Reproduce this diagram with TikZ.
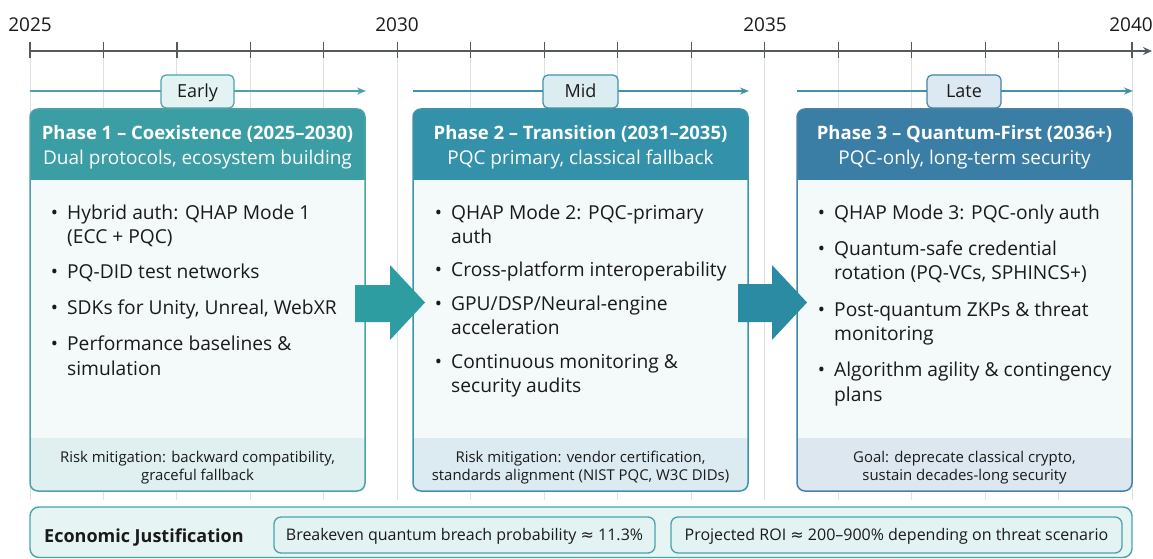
\documentclass[tikz,border=0pt]{standalone}
\usepackage{fontspec}
\setmainfont{Open Sans}
\newfontfamily\symfont{DejaVu Sans}
\usetikzlibrary{arrows.meta}
\definecolor{hdrA}{HTML}{3B9EA4}
\definecolor{hdrB}{HTML}{3392A9}
\definecolor{hdrC}{HTML}{3A7DA5}
\definecolor{bdA}{HTML}{4AA3A8}
\definecolor{bdB}{HTML}{3E93AB}
\definecolor{bdC}{HTML}{4682A8}
\definecolor{footA}{HTML}{E0F0F1}
\definecolor{footB}{HTML}{DCEBF1}
\definecolor{footC}{HTML}{DCE7F0}
\definecolor{bodyF}{HTML}{F4F9FA}
\definecolor{lblA}{HTML}{E3F3F3}
\definecolor{lblB}{HTML}{DCEDF2}
\definecolor{lblC}{HTML}{DDE9F2}
\definecolor{axisC}{HTML}{555A5E}
\definecolor{gridC}{HTML}{DDDFE0}
\definecolor{econF}{HTML}{E6F4F4}
\definecolor{arrA}{HTML}{2E9DA2}
\definecolor{arrB}{HTML}{2B8BA3}
\definecolor{txtC}{HTML}{1A1A1A}
\newcommand{\bul}{\llap{\textbullet\hspace{9pt}}}
\begin{document}
\begin{tikzpicture}[x=1pt,y=-1pt,
  txt/.style={inner sep=0pt, text depth=0pt, text=txtC},
  body/.style={txt, anchor=west, text height=13.4pt, font=\fontsize{19.2}{22}\selectfont},
  hdr/.style={txt, anchor=center, text=white, text height=13.3pt, font=\fontsize{19}{22}\selectfont},
  hdrb/.style={hdr, text height=13pt, font=\bfseries\fontsize{18.5}{22}\selectfont},
  foot/.style={txt, anchor=center, text height=10.4pt, font=\fontsize{14.9}{17}\selectfont},
  year/.style={txt, anchor=center, text height=13.3pt, font=\fontsize{19}{22}\selectfont},
  lbl/.style={draw, line width=1.2pt, rounded corners=5pt, minimum width=73pt, minimum height=33pt, inner sep=0pt, text height=12.6pt, text depth=0pt, font=\fontsize{18}{22}\selectfont, text=txtC},
  parr/.style={line width=1.5pt, -{Stealth[length=9pt,width=7pt]}},
  tick/.style={axisC, line width=1.2pt},
  gridl/.style={gridC, line width=0.9pt},
  pbox/.style={line width=1.5pt, rounded corners=8pt},
  econbox/.style={draw=bdA, fill=lblA, line width=1.3pt, rounded corners=7pt, minimum width=#1, minimum height=36pt, inner sep=0pt, text height=11.2pt, text depth=0pt, font=\fontsize{16}{19}\selectfont, text=txtC},
]
\useasboundingbox (0,0) rectangle (1153,559);
\fill[white] (0,0) rectangle (1153,559);

% grid lines and ticks
\foreach \i in {0,...,15} {
  \draw[gridl] ({30+\i*73.47},58) -- ({30+\i*73.47},500);
}
\coordinate (axL) at (30,51);
\coordinate (axR) at (1152,51);
\draw[axisC, line width=1.8pt, -{Stealth[length=9pt,width=8pt]}] (axL) -- (axR);
\foreach \i in {0,...,15} {
  \draw[tick] ({30+\i*73.47},42) -- ({30+\i*73.47},58);
}
\node[year] (y25) at (30,25) {2025};
\node[year] (y30) at (397,25) {2030};
\node[year] (y35) at (765,25) {2035};
\node[year] (y40) at (1131,25) {2040};

% phase arrows and labels
\coordinate (eaS) at (30,91);  \coordinate (eaE) at (366,91);
\coordinate (miS) at (413,91); \coordinate (miE) at (749,91);
\coordinate (laS) at (797,91); \coordinate (laE) at (1133,91);
\draw[parr, color=bdA] (eaS) -- (eaE);
\draw[parr, color=bdB] (miS) -- (miE);
\draw[parr, color=bdB] (laS) -- (laE);
\node[lbl, draw=bdA, fill=lblA] (early) at (197.5,91.5) {Early};
\node[lbl, draw=bdB, fill=lblB, minimum width=75pt] (mid) at (580.5,91.5) {Mid};
\node[lbl, draw=bdC, fill=lblC, minimum width=74pt] (late) at (964,91.5) {Late};

% phase boxes
\foreach \xa/\xb/\hc/\bc/\fc in {30/365/hdrA/bdA/footA, 413/748/hdrB/bdB/footB, 797/1132/hdrC/bdC/footC} {
  \begin{scope}
    \clip[rounded corners=8pt] (\xa,109) rectangle (\xb,491);
    \fill[bodyF] (\xa,109) rectangle (\xb,491);
    \fill[\hc] (\xa,109) rectangle (\xb,180);
    \fill[\fc] (\xa,438) rectangle (\xb,491);
  \end{scope}
  \draw[pbox, draw=\bc] (\xa,109) rectangle (\xb,491);
}

% headers
\node[hdrb] (h1a) at (197.5,133) {Phase 1 – Coexistence (2025–2030)};
\node[hdr] (h1b) at (197.5,158) {Dual protocols, ecosystem building};
\node[hdrb] (h2a) at (580.5,133) {Phase 2 – Transition (2031–2035)};
\node[hdr] (h2b) at (580.5,158) {PQC primary, classical fallback};
\node[hdrb] (h3a) at (964.5,133) {Phase 3 – Quantum-First (2036+)};
\node[hdr] (h3b) at (964.5,158) {PQC-only, long-term security};

% bullets phase 1
\node[body] (p1a) at (67,213) {\bul Hybrid auth: QHAP Mode 1};
\node[body] (p1b) at (67,237) {(ECC + PQC)};
\node[body] (p1c) at (67,272) {\bul PQ-DID test networks};
\node[body] (p1d) at (67,308) {\bul SDKs for Unity, Unreal, WebXR};
\node[body] (p1e) at (67,344) {\bul Performance baselines \&};
\node[body] (p1f) at (67,369) {simulation};
% phase 2
\node[body] (p2a) at (451,213) {\bul QHAP Mode 2: PQC-primary};
\node[body] (p2b) at (451,237) {auth};
\node[body] (p2c) at (451,270) {\bul Cross-platform interoperability};
\node[body] (p2d) at (451,304) {\bul GPU/DSP/Neural-engine};
\node[body] (p2e) at (451,328) {acceleration};
\node[body] (p2f) at (451,362) {\bul Continuous monitoring \&};
\node[body] (p2g) at (451,386) {security audits};
% phase 3
\node[body] (p3a) at (834,213) {\bul QHAP Mode 3: PQC-only auth};
\node[body] (p3b) at (834,249) {\bul Quantum-safe credential};
\node[body] (p3c) at (834,273) {rotation (PQ-VCs, SPHINCS+)};
\node[body] (p3d) at (834,310) {\bul Post-quantum ZKPs \& threat};
\node[body] (p3e) at (834,334) {monitoring};
\node[body] (p3f) at (834,370) {\bul Algorithm agility \& contingency};
\node[body] (p3g) at (834,395) {plans};

% footers
\node[foot] (f1a) at (197.5,457) {Risk mitigation: backward compatibility,};
\node[foot] (f1b) at (197.5,475) {graceful fallback};
\node[foot] (f2a) at (580.5,457) {Risk mitigation: vendor certification,};
\node[foot] (f2b) at (580.5,475) {standards alignment (NIST PQC, W3C DIDs)};
\node[foot] (f3a) at (964.5,457) {Goal: deprecate classical crypto,};
\node[foot] (f3b) at (964.5,475) {sustain decades-long security};

% block arrows between phases
\fill[arrA] (355,285) -- (390,285) -- (390,265) -- (425,302.5) -- (390,340) -- (390,322) -- (355,322) -- cycle;
\fill[arrB] (738,284) -- (772,284) -- (772,265) -- (807,302.5) -- (772,340) -- (772,322) -- (738,322) -- cycle;

% economic justification bar
\draw[draw=bdA, fill=econF, line width=1.4pt, rounded corners=9pt] (30,507) rectangle (1132,557.5);
\node[txt, anchor=west, text height=12.6pt, font=\bfseries\fontsize{18}{24}\selectfont] (econ) at (44,536) {Economic Justification};
\node[econbox=381pt] (be) at (464.5,535) {Breakeven quantum breach probability {\symfont ≈} 11.3\%};
\node[econbox=451pt] (roi) at (896.5,535) {Projected ROI {\symfont ≈} 200–900\% depending on threat scenario};
\end{tikzpicture}
\end{document}
